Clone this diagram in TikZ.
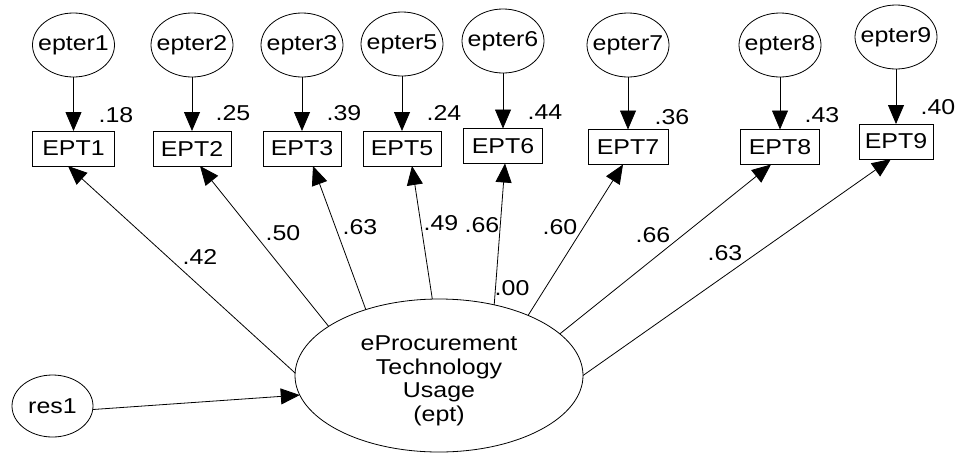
\documentclass[tikz,border=0pt]{standalone}
\usepackage{fontspec}
\setmainfont{Liberation Sans}[FakeStretch=1.16]
\usetikzlibrary{arrows.meta,shapes.geometric}
\begin{document}
\begin{tikzpicture}[x=1pt,y=-1pt,
  every node/.style={font=\fontsize{21.5}{23.5}\selectfont},
  ell/.style={draw, ellipse, minimum width=82pt, minimum height=64pt, inner sep=0pt, outer sep=0pt, line width=0.8pt},
  obs/.style={draw, rectangle, minimum width=79pt, minimum height=35pt, inner sep=0pt, outer sep=0pt, line width=0.8pt},
  lbl/.style={inner sep=0pt},
  arr/.style={-{Triangle[length=19pt,width=16pt]}, line width=0.8pt}]
\useasboundingbox (0,0) rectangle (958,453);

% error terms
\node[ell, label={center:epter1}] (e1) at (73.5,45) {};
\node[ell, label={center:epter2}] (e2) at (192,45) {};
\node[ell, label={center:epter3}] (e3) at (302,45) {};
\node[ell, label={center:epter5}] (e5) at (402,44) {};
\node[ell, label={center:epter6}] (e6) at (503,41) {};
\node[ell, label={center:epter7}] (e7) at (628,45) {};
\node[ell, label={center:epter8}] (e8) at (780,45) {};
\node[ell, label={center:epter9}] (e9) at (896,37) {};

% observed
\node[obs, minimum width=82pt] (b1) at (73.5,148.5) {EPT1};
\node[obs, minimum width=78pt] (b2) at (192,148.5) {EPT2};
\node[obs, minimum width=78pt] (b3) at (302,148.5) {EPT3};
\node[obs, minimum width=78pt] (b5) at (402,148.5) {EPT5};
\node[obs] (b6) at (503,146) {EPT6};
\node[obs, minimum width=80pt] (b7) at (628,147) {EPT7};
\node[obs] (b8) at (780,147) {EPT8};
\node[obs, minimum width=74pt] (b9) at (896,141.5) {EPT9};

% r-squared
\node[lbl] (r1) at (116,115) {.18};
\node[lbl] (r2) at (233,113) {.25};
\node[lbl] (r3) at (344,113) {.39};
\node[lbl] (r5) at (444,113) {.24};
\node[lbl] (r6) at (545,112) {.44};
\node[lbl] (r7) at (672,117) {.36};
\node[lbl] (r8) at (822,115) {.43};
\node[lbl] (r9) at (938,107) {.40};

% latent
\node[ell, minimum width=288pt, minimum height=153pt] (ept) at (439,375.5) {};
\node[align=center, inner sep=0pt] (eptt) at (439,381) {eProcurement\\Technology\\Usage\\(ept)};

\node[ell, minimum width=81pt, minimum height=62pt, label={center:res1}] (res1) at (52.5,406) {};

% error arrows
\foreach \i in {1,2,3,5,6,7,8,9}{
  \draw[arr] (e\i) -- (b\i);
}

% loadings
\draw[arr] (ept.179) -- ([xshift=-5.5pt]b1.south);
\draw[arr] (ept.156.4) -- ([xshift=8pt]b2.south);
\draw[arr] (ept.138.5) -- ([xshift=11pt]b3.south);
\draw[arr] (ept.95.2) -- ([xshift=10pt]b5.south);
\draw[arr] (ept.52.4) -- ([xshift=2pt]b6.south);
\draw[arr] (ept.34.5) -- ([xshift=-5pt]b7.south);
\draw[arr] (ept.19.4) -- ([xshift=-9pt]b8.south);
\draw[arr] (ept.0) -- ([xshift=-5pt]b9.south);

\draw[arr] (res1.-5) -- (ept.188.8);

% loading labels
\node[lbl] (l1) at (200,257) {.42};
\node[lbl] (l2) at (283,233) {.50};
\node[lbl] (l3) at (360,227) {.63};
\node[lbl] (l5) at (441,223) {.49};
\node[lbl] (l6) at (482,225) {.66};
\node[lbl, anchor=west] (l0) at (494.5,288) {.00};
\node[lbl] (l7) at (560,227) {.60};
\node[lbl] (l8) at (653,235) {.66};
\node[lbl] (l9) at (725,253) {.63};
\end{tikzpicture}
\end{document}
